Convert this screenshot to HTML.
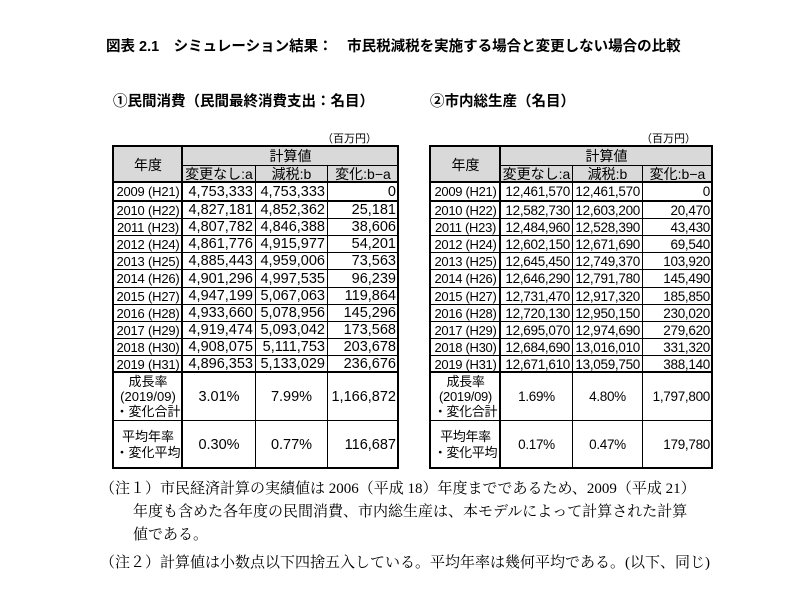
<!DOCTYPE html>
<html><head><meta charset="utf-8">
<style>
body{margin:0;background:#fff;}
#root{position:relative;width:800px;height:601px;overflow:hidden;font-family:"Liberation Sans","Noto Sans CJK JP",sans-serif;color:#000;}
.t{position:absolute;white-space:nowrap;}
.c{position:absolute;box-sizing:border-box;border:1px solid #000;font-size:14.5px;display:flex;align-items:center;overflow:hidden;white-space:nowrap;}
.right .c{font-size:13.5px;letter-spacing:-0.3px;}
.h{background:#d9d9d9;justify-content:center;font-size:14px;}
.right .c.h{font-size:14px;letter-spacing:0;}
.r{justify-content:flex-end;padding-right:2px;}
.m{justify-content:center;}
.y{justify-content:center;font-size:13px !important;letter-spacing:-0.2px;}
.box{position:absolute;box-sizing:border-box;border:2px solid #000;pointer-events:none;}
.note{position:absolute;font-family:"Liberation Serif","Noto Serif CJK SC",serif;font-size:15px;white-space:nowrap;}
</style></head><body>
<div id="root">
<div class="t" style="left:106px;top:35px;font-size:14.5px;font-weight:bold;">図表 2.1　シミュレーション結果：　市民税減税を実施する場合と変更しない場合の比較</div>
<div class="t" style="left:113px;top:90px;font-size:14.5px;font-weight:bold;">①民間消費（民間最終消費支出：名目）</div>
<div class="t" style="left:430px;top:90px;font-size:14.5px;font-weight:bold;">②市内総生産（名目）</div>
<div class="t" style="left:322px;top:130px;font-size:11px;">（百万円）</div>
<div class="t" style="left:641px;top:130px;font-size:11px;">（百万円）</div>
<div id="tables"><div id="tl" class="left"></div><div id="tr" class="right"></div></div>
<div class="note" style="left:100px;top:477px;">（注１）市民経済計算の実績値は 2006（平成 18）年度までであるため、2009（平成 21）</div>
<div class="note" style="left:133px;top:500px;">年度も含めた各年度の民間消費、市内総生産は、本モデルによって計算された計算</div>
<div class="note" style="left:133px;top:523px;">値である。</div>
<div class="note" style="left:100px;top:551px;">（注２）計算値は小数点以下四捨五入している。平均年率は幾何平均である。(以下、同じ)</div>
</div>
<script>
const years=["2009 (H21)","2010 (H22)","2011 (H23)","2012 (H24)","2013 (H25)","2014 (H26)","2015 (H27)","2016 (H28)","2017 (H29)","2018 (H30)","2019 (H31)"];
const leftA=["4,753,333","4,827,181","4,807,782","4,861,776","4,885,443","4,901,296","4,947,199","4,933,660","4,919,474","4,908,075","4,896,353"];
const leftB=["4,753,333","4,852,362","4,846,388","4,915,977","4,959,006","4,997,535","5,067,063","5,078,956","5,093,042","5,111,753","5,133,029"];
const leftC=["0","25,181","38,606","54,201","73,563","96,239","119,864","145,296","173,568","203,678","236,676"];
const leftSum=["3.01%","7.99%","1,166,872"];
const leftAvg=["0.30%","0.77%","116,687"];
const rightA=["12,461,570","12,582,730","12,484,960","12,602,150","12,645,450","12,646,290","12,731,470","12,720,130","12,695,070","12,684,690","12,671,610"];
const rightB=["12,461,570","12,603,200","12,528,390","12,671,690","12,749,370","12,791,780","12,917,320","12,950,150","12,974,690","13,016,010","13,059,750"];
const rightC=["0","20,470","43,430","69,540","103,920","145,490","185,850","230,020","279,620","331,320","388,140"];
const rightSum=["1.69%","4.80%","1,797,800"];
const rightAvg=["0.17%","0.47%","179,780"];

let host;
function cell(x,y,w,h,txt,cls,name){
  const d=document.createElement('div');
  d.className='c '+cls;
  d.style.left=x+'px';d.style.top=y+'px';d.style.width=(w+1)+'px';d.style.height=(h+1)+'px';
  d.innerHTML=txt;
  
  
  host.appendChild(d);
}
function box(x,y,w,h,name){
  const d=document.createElement('div');
  d.className='box';
  d.style.left=(x-1)+'px';d.style.top=(y-1)+'px';d.style.width=(w+2)+'px';d.style.height=(h+2)+'px';
  
  
  host.appendChild(d);
}
function table(cx,A,B,C,S,V,p){
  host=document.getElementById(p==='left'?'tl':'tr');
  const w=cx.map((v,i)=>i<4?cx[i+1]-v:0);
  cell(cx[0],146,w[0],36,'年度','h',p+'-year-header');
  cell(cx[1],146,cx[4]-cx[1],19,'計算値','h',p+'-calc-header');
  cell(cx[1],165,w[1],17,'変更なし:a','h',p+'-col-a-header');
  cell(cx[2],165,w[2],17,'減税:b','h',p+'-col-b-header');
  cell(cx[3],165,w[3],17,'変化:b−a','h',p+'-col-c-header');
  const rh=17.1;
  years.forEach((yr,i)=>{
    const y=i===0?182:Math.round(201+(i-1)*rh);
    const h=i===0?18:Math.round(201+i*rh)-y;
    cell(cx[0],y,w[0],h,yr,'y',p+'-year-'+i);
    cell(cx[1],y,w[1],h,A[i],'r',p+'-a-'+i);
    cell(cx[2],y,w[2],h,B[i],'r',p+'-b-'+i);
    cell(cx[3],y,w[3],h,C[i],'r',p+'-c-'+i);
  });
  cell(cx[0],372,w[0],48,'<div style="text-align:center;line-height:15px;font-size:13px">成長率<br>(2019/09)<br>・変化合計</div>','m',p+'-growth-label');
  cell(cx[1],372,w[1],48,S[0],'m',p+'-growth-a');
  cell(cx[2],372,w[2],48,S[1],'m',p+'-growth-b');
  cell(cx[3],372,w[3],48,S[2],'r',p+'-growth-c');
  cell(cx[0],420,w[0],48,'<div style="text-align:center;line-height:16px;font-size:13px">平均年率<br>・変化平均</div>','m',p+'-avg-label');
  cell(cx[1],420,w[1],48,V[0],'m',p+'-avg-a');
  cell(cx[2],420,w[2],48,V[1],'m',p+'-avg-b');
  cell(cx[3],420,w[3],48,V[2],'r',p+'-avg-c');
  box(cx[0],146,cx[4]-cx[0],36,p+'-header-frame');
  box(cx[0],182,cx[4]-cx[0],286,p+'-body-frame');
  box(cx[0],201,cx[4]-cx[0],171,p+'-rows-frame');
  box(cx[0],146,w[0],322,p+'-year-frame');
}
table([113,182,255,327,398],leftA,leftB,leftC,leftSum,leftAvg,'left');
table([430,500,572,642,712],rightA,rightB,rightC,rightSum,rightAvg,'right');
</script>
</body></html>
